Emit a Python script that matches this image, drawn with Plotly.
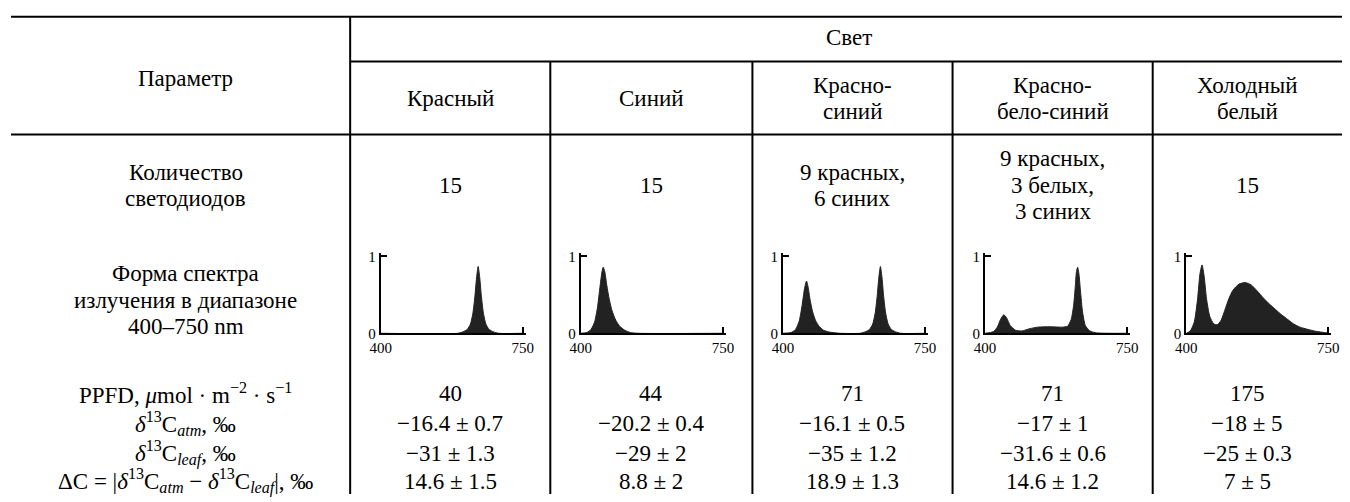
import plotly.graph_objects as go

# ---------------- data ----------------
lights = ["Красный", "Синий", "Красно-<br>синий", "Красно-<br>бело-синий", "Холодный<br>белый"]
leds = ["15", "15", "9 красных,<br>6 синих", "9 красных,<br>3 белых,<br>3 синих", "15"]
ppfd = ["40", "44", "71", "71", "175"]
d13c_atm = ["−16.4 ± 0.7", "−20.2 ± 0.4", "−16.1 ± 0.5", "−17 ± 1", "−18 ± 5"]
d13c_leaf = ["−31 ± 1.3", "−29 ± 2", "−35 ± 1.2", "−31.6 ± 0.6", "−25 ± 0.3"]
delta_c = ["14.6 ± 1.5", "8.8 ± 2", "18.9 ± 1.3", "14.6 ± 1.2", "7 ± 5"]

param_labels = [
    ["Количество", "светодиодов"],
    ["Форма спектра", "излучения в диапазоне", "400–750 nm"],
    ["PPFD, <i>μ</i>mol · m<sup>−2</sup> · s<sup>−1</sup>"],
    ["<i>δ</i><sup>13</sup>C<sub><i>atm</i></sub>, ‰"],
    ["<i>δ</i><sup>13</sup>C<sub><i>leaf</i></sub>, ‰"],
    ["ΔC = |<i>δ</i><sup>13</sup>C<sub><i>atm</i></sub> − <i>δ</i><sup>13</sup>C<sub><i>leaf</i></sub>|, ‰"],
]

# emission spectra (wavelength nm, relative intensity)
red_wl = [400, 590, 603, 613, 621, 627, 632, 636, 640, 644, 648, 653, 659, 667, 677, 690, 750]
red_i = [0, 0, 0.02, 0.05, 0.12, 0.26, 0.48, 0.72, 0.87, 0.72, 0.48, 0.26, 0.12, 0.05, 0.02, 0, 0]

blue_wl = [400, 415, 425, 434, 441, 447, 452, 455, 459, 464, 470, 477, 486, 496, 508, 522, 540, 750]
blue_i = [0, 0.01, 0.05, 0.15, 0.34, 0.6, 0.8, 0.86, 0.8, 0.62, 0.44, 0.29, 0.17, 0.09, 0.04, 0.01, 0, 0]

rb_wl = [400, 420, 431, 440, 447, 453, 458, 462, 467, 473, 480, 489, 500, 515, 540, 590,
         603, 613, 621, 627, 632, 636, 640, 644, 648, 653, 659, 667, 677, 690, 750]
rb_i = [0, 0.01, 0.05, 0.16, 0.36, 0.58, 0.68, 0.6, 0.43, 0.28, 0.17, 0.09, 0.04, 0.015, 0, 0,
        0.02, 0.05, 0.12, 0.26, 0.48, 0.72, 0.87, 0.72, 0.48, 0.26, 0.12, 0.05, 0.02, 0, 0]

rwb_wl = [400, 420, 430, 438, 446, 453, 462, 475, 490, 510, 530, 560, 590, 603, 612,
          618, 622, 625, 628, 631, 635, 640, 647, 658, 675, 750]
rwb_i = [0, 0.02, 0.08, 0.18, 0.24, 0.2, 0.1, 0.04, 0.03, 0.06, 0.08, 0.085, 0.08, 0.09, 0.18,
         0.36, 0.6, 0.8, 0.86, 0.78, 0.55, 0.28, 0.1, 0.03, 0.005, 0]

cw_wl = [400, 410, 420, 428, 434, 439, 444, 450, 458, 468, 476, 485, 495, 505, 515, 530,
         545, 560, 575, 590, 605, 620, 635, 650, 665, 680, 700, 720, 740, 750]
cw_i = [0, 0.03, 0.15, 0.45, 0.78, 0.89, 0.75, 0.45, 0.22, 0.12, 0.11, 0.16, 0.3, 0.45, 0.56, 0.64,
        0.66, 0.63, 0.55, 0.46, 0.38, 0.31, 0.24, 0.18, 0.12, 0.08, 0.05, 0.025, 0.01, 0.005]

spectra = [(red_wl, red_i), (blue_wl, blue_i), (rb_wl, rb_i), (rwb_wl, rwb_i), (cw_wl, cw_i)]

# ---------------- layout helpers ----------------
W, H = 1350, 502
FONT = "Liberation Serif"
FS = 23


def px(x):
    return x / W


def py(y):
    return 1 - y / H


col_edges = [344, 547, 752, 955, 1158, 1350]
col_centers = [(col_edges[i] + col_edges[i + 1]) / 2 for i in range(5)]
left_center = 177
line_gap = 27

fig = go.Figure()
annotations = []
shapes = []


def line(x0, y0, x1, y1, w=2):
    shapes.append(dict(type="line", xref="paper", yref="paper",
                       x0=px(x0), y0=py(y0), x1=px(x1), y1=py(y1),
                       line=dict(color="black", width=w)))


def text(x, y, s, size=FS):
    annotations.append(dict(xref="paper", yref="paper", x=px(x), y=py(y), text=s,
                            showarrow=False, xanchor="center", yanchor="middle",
                            font=dict(family=FONT, size=size, color="black")))


def block(x, yc, s):
    parts = s.split("<br>")
    n = len(parts)
    for k, p in enumerate(parts):
        text(x, yc + (k - (n - 1) / 2) * line_gap, p)


# table rules
line(0, 12, W, 12)
line(col_edges[0], 12, col_edges[0], H)
line(col_edges[0], 58, W, 58)
for e in col_edges[1:-1]:
    line(e, 58, e, H)
line(0, 133, W, 133)

# header
text(850, 33, "Свет")
text(left_center, 75, "Параметр")
for i, lab in enumerate(lights):
    block(col_centers[i], 96, lab)

# parameter labels
block(left_center, 185, "<br>".join(param_labels[0]))
block(left_center, 303, "<br>".join(param_labels[1]))
row_y = [399, 430, 460, 489]
for k in range(4):
    text(left_center, row_y[k], param_labels[2 + k][0])

# values
for i in range(5):
    block(col_centers[i], 185, leds[i])
    text(col_centers[i], row_y[0], ppfd[i])
    text(col_centers[i], row_y[1], d13c_atm[i])
    text(col_centers[i], row_y[2], d13c_leaf[i])
    text(col_centers[i], row_y[3], delta_c[i])

# spectra mini-plots
axis_left = [375, 578, 783, 988, 1192]
axis_len = 147
for i, (wl, inten) in enumerate(spectra):
    n = "" if i == 0 else str(i + 1)
    fig.add_trace(go.Scatter(x=wl, y=inten, mode="lines", fill="tozeroy",
                             line=dict(color="#222222", width=1, shape="spline", smoothing=0.6),
                             fillcolor="#222222", hoverinfo="skip", showlegend=False,
                             xaxis="x" + n, yaxis="y" + n))
    xa = dict(domain=[px(axis_left[i]), px(axis_left[i] + axis_len)], range=[400, 757],
              showline=True, linecolor="black", linewidth=2, ticks="inside", ticklen=6,
              tickwidth=2, tickcolor="black", tickvals=[400, 750], ticktext=["400", "750"],
              tickfont=dict(family=FONT, size=15, color="black"), showgrid=False,
              zeroline=False, fixedrange=True, anchor="y" + n)
    ya = dict(domain=[py(337), py(255)], range=[0, 1.04],
              showline=True, linecolor="black", linewidth=2, ticks="inside", ticklen=6,
              tickwidth=2, tickcolor="black", tickvals=[0, 1], ticktext=["0", "1"],
              tickfont=dict(family=FONT, size=15, color="black"), showgrid=False,
              zeroline=False, fixedrange=True, anchor="x" + n)
    fig.layout["xaxis" + n] = xa
    fig.layout["yaxis" + n] = ya

fig.update_layout(width=W, height=H, margin=dict(l=0, r=0, t=0, b=0),
                  paper_bgcolor="white", plot_bgcolor="white",
                  shapes=shapes, annotations=annotations, showlegend=False,
                  font=dict(family=FONT, color="black"))

fig.write_html("out.html", config={"displayModeBar": False, "staticPlot": True},
               post_script="document.body.style.margin='0';")
